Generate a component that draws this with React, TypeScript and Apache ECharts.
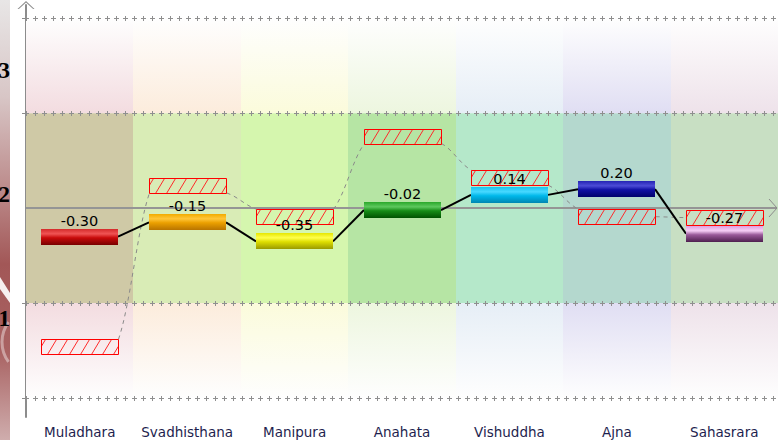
import React, { useEffect, useRef } from "react";
import * as echarts from "echarts";

// ---------- data ----------
const categories = ["Muladhara", "Svadhisthana", "Manipura", "Anahata", "Vishuddha", "Ajna", "Sahasrara"];
const actualValues = [-0.3, -0.15, -0.35, -0.02, 0.14, 0.2, -0.27];
const targetValues = [-1.46, 0.24, -0.09, 0.76, 0.32, -0.09, -0.1];
const gridLineValues = [2, 1, -1, -2];
const bandLimits = [2, 1, -1, -2];
const sideAxisTicks = [1, 2, 3];

// ---------- styles ----------
const outerTints = ["#f3dce0", "#fcecdc", "#fbfbdb", "#edf6df", "#e6eef6", "#e0def3", "#eee2ea"];
const middleTints = ["#cfc9a6", "#d9ecb6", "#d5f6ae", "#b6e5a4", "#b5e8ca", "#b4d8ce", "#c8dfc3"];
const barPalette = [
  { top: "#d42a2a", hi: "#f05454", mid: "#c80a0a", bot: "#780000" },
  { top: "#f2ab00", hi: "#ffc63a", mid: "#eba000", bot: "#b87400" },
  { top: "#e6e600", hi: "#ffff4a", mid: "#dede00", bot: "#9a9a00" },
  { top: "#2aa82a", hi: "#5ec85e", mid: "#168c16", bot: "#005200" },
  { top: "#18c4f0", hi: "#48d8ff", mid: "#00b8ea", bot: "#0086b2" },
  { top: "#2424b4", hi: "#4c4cd6", mid: "#1010a4", bot: "#00006c" },
  { top: "#e0a0e0", hi: "#f6cef6", mid: "#9a5a9a", bot: "#4e1e4e" },
];
const BAR_FRACTION = 0.716;
const BAR_HEIGHT = 16;
const HATCH_HEIGHT = 15;
const AXIS_GRAY = "#8c8c8c";
const chevronUp = "path://M0,8L8.5,0L17,8L15.6,8L8.5,1.6L1.4,8Z";

function vGrad(stops: [number, string][]) {
  return new echarts.graphic.LinearGradient(
    0, 0, 0, 1,
    stops.map(([offset, color]) => ({ offset, color }))
  );
}

export default function App() {
  const ref = useRef<HTMLDivElement>(null);

  useEffect(() => {
    document.body.style.margin = "0";
    const chart = echarts.init(ref.current!, undefined, { renderer: "svg" });

    const backgroundSeries = {
      type: "custom",
      z: 1,
      silent: true,
      data: categories.map((_, i) => [i, 0]),
      renderItem: (params: any, api: any) => {
        const i = params.dataIndex;
        const bw = api.size([1, 0])[0];
        const cx = api.coord([api.value(0), 0])[0];
        const xL = Math.round(cx - bw / 2);
        const xR = Math.round(cx + bw / 2);
        const y2 = api.coord([i, bandLimits[0]])[1];
        const y1 = api.coord([i, bandLimits[1]])[1];
        const ym1 = api.coord([i, bandLimits[2]])[1];
        const ym2 = api.coord([i, bandLimits[3]])[1];
        return {
          type: "group",
          children: [
            {
              type: "rect",
              shape: { x: xL, y: y2, width: xR - xL, height: y1 - y2 },
              style: { fill: vGrad([[0, "#fefefe"], [1, outerTints[i]]]) },
            },
            {
              type: "rect",
              shape: { x: xL, y: y1, width: xR - xL, height: ym1 - y1 },
              style: { fill: middleTints[i] },
            },
            {
              type: "rect",
              shape: { x: xL, y: ym1, width: xR - xL, height: ym2 - ym1 },
              style: { fill: vGrad([[0, outerTints[i]], [1, "#fefefe"]]) },
            },
          ],
        };
      },
    };

    const gridSeries = {
      type: "custom",
      z: 2,
      silent: true,
      data: gridLineValues.map((v) => [0, v]),
      renderItem: (params: any, api: any) => {
        const cs = params.coordSys;
        const y = Math.round(api.coord([0, api.value(1)])[1]) + 0.5;
        const x0 = cs.x;
        const x1 = cs.x + cs.width;
        return {
          type: "group",
          children: [
            { type: "line", shape: { x1: x0 - 4, y1: y, x2: x0, y2: y }, style: { stroke: AXIS_GRAY, lineWidth: 1 } },
            {
              type: "line",
              shape: { x1: x0, y1: y, x2: x1, y2: y },
              style: { stroke: "#8f8f8f", lineWidth: 1, lineDash: [5, 4], lineDashOffset: 2 },
            },
            {
              type: "line",
              shape: { x1: x0, y1: y, x2: x1, y2: y },
              style: { stroke: "#8f8f8f", lineWidth: 5, lineDash: [1, 8], lineDashOffset: 0 },
            },
          ],
        };
      },
    };

    const zeroAxisSeries = {
      type: "custom",
      z: 3,
      silent: true,
      data: [[0, 0]],
      renderItem: (params: any, api: any) => {
        const cs = params.coordSys;
        const y = Math.round(api.coord([0, api.value(1)])[1]);
        const xe = cs.x + cs.width - 1;
        return {
          type: "group",
          children: [
            { type: "line", shape: { x1: cs.x, y1: y, x2: xe, y2: y }, style: { stroke: "#959595", lineWidth: 2 } },
            {
              type: "polyline",
              shape: { points: [[xe - 8, y - 9], [xe, y], [xe - 8, y + 9]] },
              style: { stroke: AXIS_GRAY, lineWidth: 1, fill: null },
            },
          ],
        };
      },
    };

    const dashedConnectorSeries = {
      type: "custom",
      z: 3,
      silent: true,
      data: targetValues.slice(0, -1).map((v, i) => [i, v, targetValues[i + 1]]),
      renderItem: (params: any, api: any) => {
        const i = api.value(0);
        const bw = api.size([1, 0])[0];
        const w = Math.round(bw * BAR_FRACTION);
        const p0 = api.coord([i, api.value(1)]);
        const p1 = api.coord([i + 1, api.value(2)]);
        const xa = Math.round(p0[0] - w / 2) + w + 0.5;
        const xb = Math.round(p1[0] - w / 2) + 0.5;
        const dy = p1[1] - p0[1];
        let ya = p0[1];
        let yb = p1[1];
        if (dy < -5) {
          ya = p0[1] - HATCH_HEIGHT / 2;
          yb = p1[1] + HATCH_HEIGHT / 2;
        } else if (dy > 5) {
          ya = p0[1] + HATCH_HEIGHT / 2;
          yb = p1[1] - HATCH_HEIGHT / 2;
        }
        const dx = xb - xa;
        const ddy = yb - ya;
        return {
          type: "bezierCurve",
          shape: {
            x1: xa, y1: ya, x2: xb, y2: yb,
            cpx1: xa + dx * 0.4, cpy1: ya + ddy * 0.25,
            cpx2: xb - dx * 0.4, cpy2: yb - ddy * 0.25,
          },
          style: { stroke: "#8a8a8a", lineWidth: 1, lineDash: [4, 4], fill: null },
        };
      },
    };

    const solidConnectorSeries = {
      type: "custom",
      z: 4,
      silent: true,
      data: actualValues.slice(0, -1).map((v, i) => [i, v, actualValues[i + 1]]),
      renderItem: (params: any, api: any) => {
        const i = api.value(0);
        const bw = api.size([1, 0])[0];
        const w = Math.round(bw * BAR_FRACTION);
        const p0 = api.coord([i, api.value(1)]);
        const p1 = api.coord([i + 1, api.value(2)]);
        const xa = Math.round(p0[0] - w / 2) + w;
        const xb = Math.round(p1[0] - w / 2);
        return {
          type: "line",
          shape: { x1: xa, y1: p0[1], x2: xb, y2: p1[1] },
          style: { stroke: "#000000", lineWidth: 2 },
        };
      },
    };

    const hatchSeries = {
      type: "custom",
      z: 5,
      silent: true,
      data: targetValues.map((v, i) => [i, v]),
      renderItem: (params: any, api: any) => {
        const c = api.coord([api.value(0), api.value(1)]);
        const bw = api.size([1, 0])[0];
        const w = Math.round(bw * BAR_FRACTION);
        const x0 = Math.round(c[0] - w / 2) + 0.5;
        const y0 = Math.round(c[1] - HATCH_HEIGHT / 2) + 0.5;
        const x1 = x0 + w;
        const y1 = y0 + HATCH_HEIGHT;
        const s = 9;
        const step = 11;
        const children: any[] = [];
        for (let a = x0 - s + 4; a < x1; a += step) {
          const tMin = Math.max(0, (x0 - a) / s);
          const tMax = Math.min(1, (x1 - a) / s);
          if (tMax > tMin) {
            children.push({
              type: "line",
              shape: {
                x1: a + s * tMin, y1: y1 - HATCH_HEIGHT * tMin,
                x2: a + s * tMax, y2: y1 - HATCH_HEIGHT * tMax,
              },
              style: { stroke: "#ff2a2a", lineWidth: 1 },
            });
          }
        }
        children.push({
          type: "rect",
          shape: { x: x0, y: y0, width: w, height: HATCH_HEIGHT },
          style: { fill: "rgba(0,0,0,0)", stroke: "#ff0000", lineWidth: 1 },
        });
        return { type: "group", children };
      },
    };

    const barSeries = {
      type: "custom",
      z: 6,
      silent: true,
      data: actualValues.map((v, i) => [i, v]),
      renderItem: (params: any, api: any) => {
        const i = params.dataIndex;
        const v = api.value(1);
        const c = api.coord([api.value(0), v]);
        const bw = api.size([1, 0])[0];
        const w = Math.round(bw * BAR_FRACTION);
        const x0 = Math.round(c[0] - w / 2);
        const y0 = Math.round(c[1] - BAR_HEIGHT / 2);
        const p = barPalette[i];
        return {
          type: "group",
          children: [
            {
              type: "rect",
              shape: { x: x0, y: y0, width: w, height: BAR_HEIGHT },
              style: { fill: vGrad([[0, p.top], [0.3, p.hi], [0.55, p.mid], [1, p.bot]]) },
            },
            {
              type: "text",
              x: x0 + w / 2,
              y: y0 - 1,
              style: {
                text: v.toFixed(2),
                fill: "#000000",
                fontSize: 14.5,
                fontFamily: "DejaVu Sans",
                align: "center",
                verticalAlign: "bottom",
                textAlign: "center",
                textVerticalAlign: "bottom",
              },
            },
          ],
        };
      },
    };

    const option = {
      animation: false,
      backgroundColor: "#ffffff",
      grid: { left: 26, right: 2, top: 5, bottom: 23, containLabel: false, outerBoundsMode: "none" },
      xAxis: [
        {
          type: "category",
          data: categories,
          position: "bottom",
          axisLine: { show: false, onZero: false },
          axisTick: { show: false },
          splitLine: { show: false },
          axisLabel: {
            interval: 0,
            hideOverlap: false,
            margin: 8,
            fontSize: 13.5,
            fontFamily: "DejaVu Sans",
            color: "#1e1e4e",
          },
        },
      ],
      yAxis: [
        {
          type: "value",
          position: "left",
          min: -2.2,
          max: 2.14,
          axisLine: {
            show: true,
            onZero: false,
            symbol: ["none", chevronUp],
            symbolSize: [17, 8],
            lineStyle: { color: AXIS_GRAY, width: 2 },
          },
          axisTick: { show: false },
          axisLabel: { show: false },
          splitLine: { show: false },
        },
        {
          type: "value",
          position: "left",
          min: 0.21,
          max: 3.53,
          axisLine: { show: false, onZero: false },
          axisTick: { show: false },
          splitLine: { show: false },
          axisLabel: {
            show: true,
            margin: 16,
            customValues: sideAxisTicks,
            formatter: (v: number) => (Number.isInteger(v) ? String(v) : ""),
            fontFamily: "Liberation Serif",
            fontWeight: "bold",
            fontSize: 23,
            color: "#000000",
          },
        },
      ],
      graphic: {
        elements: [
          {
            type: "rect",
            z: -10,
            silent: true,
            shape: { x: 0, y: 0, width: 10, height: 440 },
            style: {
              fill: vGrad([
                [0, "#e8e6e6"],
                [0.22, "#d8c6c6"],
                [0.45, "#b98585"],
                [0.6, "#a25757"],
                [0.8, "#a96363"],
                [1, "#cfadad"],
              ]),
            },
          },
          {
            type: "polygon",
            z: -9,
            silent: true,
            shape: { points: [[0, 277], [10, 293], [10, 303], [0, 289]] },
            style: { fill: "rgba(255,255,255,0.9)" },
          },
          {
            type: "arc",
            z: -9,
            silent: true,
            shape: { cx: 36, cy: 342, r: 34, startAngle: Math.PI * 0.8, endAngle: Math.PI * 1.2 },
            style: { stroke: "rgba(255,255,255,0.4)", lineWidth: 3, fill: null },
          },
        ],
      },
      series: [
        backgroundSeries,
        gridSeries,
        zeroAxisSeries,
        dashedConnectorSeries,
        solidConnectorSeries,
        hatchSeries,
        barSeries,
      ],
    };

    chart.setOption(option as any);
    return () => chart.dispose();
  }, []);

  return <div ref={ref} style={{ width: 780, height: 440 }} />;
}
